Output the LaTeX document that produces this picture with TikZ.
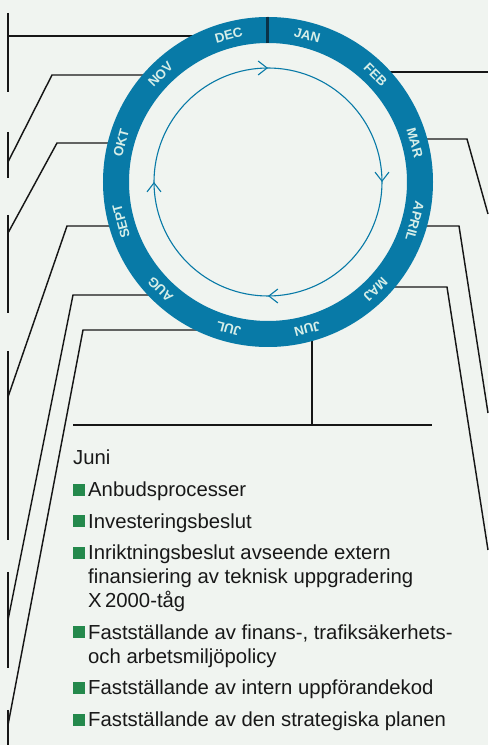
\documentclass[tikz,border=0pt]{standalone}
\usepackage{fontspec}
\setmainfont{Liberation Sans}
\usetikzlibrary{arrows.meta,decorations.markings,calc}
\definecolor{bgc}{RGB}{240,244,240}
\definecolor{ringc}{RGB}{8,122,167}
\definecolor{tickc}{RGB}{10,50,72}
\definecolor{monthc}{RGB}{214,238,232}
\definecolor{linec}{RGB}{22,22,22}
\definecolor{bulc}{RGB}{36,137,76}
\definecolor{txtc}{RGB}{24,24,24}
\begin{document}
\begin{tikzpicture}[x=1pt,y=1pt,
  conn/.style={draw=linec, line width=1.45pt},
  month/.style={text=monthc, font=\fontsize{13.3}{13.3}\selectfont\bfseries, inner sep=0pt, anchor=center},
  item/.style={anchor=base west, inner sep=0pt, font=\fontsize{20.3}{24}\selectfont, text=txtc},
  bulletsq/.style={fill=bulc, minimum size=12pt, inner sep=0pt, anchor=south west}]
\useasboundingbox (0,0) rectangle (488,745);
\fill[bgc] (0,0) rectangle (488,745);
\coordinate (c) at (268,563);

% left vertical bars
\coordinate (b1t) at (8,732); \coordinate (b1b) at (8,653);
\coordinate (b2t) at (8,613); \coordinate (b2b) at (8,567);
\coordinate (b3t) at (8,530); \coordinate (b3b) at (8,432);
\coordinate (b4t) at (8,394); \coordinate (b4b) at (8,205);
\coordinate (b5t) at (8,173); \coordinate (b5b) at (8,77);
\coordinate (b6t) at (8,35);  \coordinate (b6b) at (8,0);
\foreach \i in {1,...,6} \draw[conn] (b\i t) -- (b\i b);

% ring attachment points (inside band, covered by ring)
\coordinate (rDEC) at (225.7,709);
\coordinate (rNOV) at (160,670);
\coordinate (rOKT) at (121,602);
\coordinate (rSEPT) at (122.5,519);
\coordinate (rAUG) at (166,450);
\coordinate (rJUL) at (233.4,415);
\coordinate (rFEB) at (373,673);
\coordinate (rMAR) at (414,606);
\coordinate (rAPR) at (413.5,519);
\coordinate (rMAJ) at (378,458);
\coordinate (rJUN) at (312,417.5);

% left connectors
\coordinate (eDEC) at (8,709);
\coordinate (kNOV) at (52,670);  \coordinate (eNOV) at (8,583);
\coordinate (kOKT) at (57,602);  \coordinate (eOKT) at (8,512);
\coordinate (kSEPT) at (67,519); \coordinate (eSEPT) at (8,348);
\coordinate (kAUG) at (73,450);  \coordinate (eAUG) at (8,125);
\coordinate (kJUL) at (83,415);  \coordinate (eJUL) at (8,20);
\draw[conn] (rDEC) -- (eDEC);
\draw[conn] (rNOV) -- (kNOV) -- (eNOV);
\draw[conn] (rOKT) -- (kOKT) -- (eOKT);
\draw[conn] (rSEPT) -- (kSEPT) -- (eSEPT);
\draw[conn] (rAUG) -- (kAUG) -- (eAUG);
\draw[conn] (rJUL) -- (kJUL) -- (eJUL);

% right connectors
\coordinate (eFEB) at (488,673);
\coordinate (kMAR) at (467,606); \coordinate (eMAR) at (488,531);
\coordinate (kAPR) at (459,519); \coordinate (eAPR) at (488,332);
\coordinate (kMAJ) at (447,458); \coordinate (eMAJ) at (488,195);
\draw[conn] (rFEB) -- (eFEB);
\draw[conn] (rMAR) -- (kMAR) -- (eMAR);
\draw[conn] (rAPR) -- (kAPR) -- (eAPR);
\draw[conn] (rMAJ) -- (kMAJ) -- (eMAJ);

% June connector
\coordinate (kJUN) at (312,320);
\coordinate (hL) at (73,320); \coordinate (hR) at (432,320);
\draw[conn] (rJUN) -- (kJUN);
\draw[conn] (hL) -- (hR);

% ring
\draw[ringc, line width=26pt] (c) circle[radius=152];
\coordinate (ticka) at (267.5,702);
\coordinate (tickb) at (267.5,728);
\draw[tickc, line width=3pt] (ticka) -- (tickb);

% inner cycle
\draw[ringc, line width=1.1pt, postaction={decorate},
  decoration={markings,
    mark=at position 0.125 with {\arrow{Straight Barb[length=9pt,width=14pt,line width=1.1pt]}},
    mark=at position 0.375 with {\arrow{Straight Barb[length=9pt,width=14pt,line width=1.1pt]}},
    mark=at position 0.625 with {\arrow{Straight Barb[length=9pt,width=14pt,line width=1.1pt]}},
    mark=at position 0.875 with {\arrow{Straight Barb[length=9pt,width=14pt,line width=1.1pt]}}}]
  ($(c)+(45:114)$) arc[start angle=45, end angle=-315, radius=114];

% months
\foreach \m/\t in {DEC/-15, JAN/15, FEB/45, MAR/75, APRIL/105, MAJ/135, JUN/165, JUL/195, AUG/225, SEPT/255, OKT/285, NOV/315}
  \node[month, rotate=-\t] (m\m) at ($(c)+({90-\t}:152)$) {\m};

% text
\node[item] (juni) at (73,280) {Juni};
\node[bulletsq] (s1) at (73,249) {};
\node[item] (t1) at (88,248) {Anbudsprocesser};
\node[bulletsq] (s2) at (73,217.5) {};
\node[item] (t2) at (88,216.5) {Investeringsbeslut};
\node[bulletsq] (s3) at (73,186) {};
\node[item] (t3a) at (88,185) {Inriktningsbeslut avseende extern};
\node[item] (t3b) at (88,161) {finansiering av teknisk uppgradering};
\node[item] (t3c) at (88,137) {X\,2000-tåg};
\node[bulletsq] (s4) at (73,106.5) {};
\node[item] (t4a) at (88,105.5) {Fastställande av finans-, trafiksäkerhets-};
\node[item] (t4b) at (88,81.5) {och arbetsmiljöpolicy};
\node[bulletsq] (s5) at (73,51) {};
\node[item] (t5) at (88,50) {Fastställande av intern uppförandekod};
\node[bulletsq] (s6) at (73,19) {};
\node[item] (t6) at (88,18) {Fastställande av den strategiska planen};
\end{tikzpicture}
\end{document}
